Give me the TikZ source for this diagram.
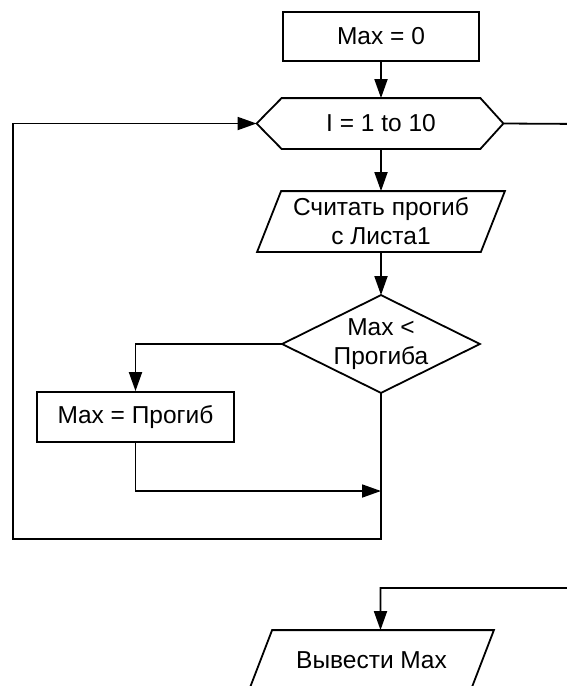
\documentclass[tikz,border=0pt]{standalone}
\usepackage{fontspec}
\setmainfont{Liberation Sans}
\usetikzlibrary{arrows.meta}
\begin{document}
\begin{tikzpicture}[x=1pt,y=-1pt,
  line width=1.8pt,
  font=\fontsize{24.5}{29}\selectfont,
  >={Triangle[length=19pt,width=13pt]},
  box/.style={draw, rectangle, inner sep=0pt},
  frame/.style={inner sep=0pt, align=center}]
\useasboundingbox (0,0) rectangle (566,686);

% nodes
\node[box, minimum width=196pt, minimum height=49pt] (m0) at (381,36.5) {Max = 0};

\node[frame, minimum width=197pt, minimum height=49pt] (loop) at (381,123.5) {I = 1 to 10};
\coordinate (loopL) at ([xshift=-25pt]loop.west);
\coordinate (loopR) at ([xshift=23pt]loop.east);
\draw (loop.north west) -- (loop.north east) -- (loopR) -- (loop.south east)
      -- (loop.south west) -- (loopL) -- cycle;

\node[frame, minimum width=222pt, minimum height=59pt] (read) at (381,221.5) {Считать прогиб\\с Листа1};
\draw ([xshift=12pt]read.north west) -- ([xshift=12pt]read.north east)
      -- ([xshift=-12pt]read.south east) -- ([xshift=-12pt]read.south west) -- cycle;

\node[frame, minimum width=196pt, minimum height=96pt] (cond) at (381,344) {Max <\\Прогиба};
\draw (cond.north) -- (cond.east) -- (cond.south) -- (cond.west) -- cycle;

\node[box, minimum width=197pt, minimum height=50pt] (mp) at (135.5,417) {Max = Прогиб};

\node[frame, minimum width=220pt, minimum height=58pt] (out) at (371.5,660) {Вывести Max};
\draw ([xshift=11.5pt]out.north west) -- ([xshift=11.5pt]out.north east)
      -- ([xshift=-11.5pt]out.south east) -- ([xshift=-11.5pt]out.south west) -- cycle;

% helper coordinates
\coordinate (join) at (381,491);
\coordinate (bl) at (13,539);
\coordinate (exitR) at (585,124);
\coordinate (exitD) at (585,588);
\coordinate (outin) at ([xshift=9pt]out.north);

% connectors
\draw[->] (m0) -- (loop);
\draw[->] (loop) -- (read);
\draw[->] (read) -- (cond.north);
\draw[->] (cond.west) -| (mp.north);
\draw[->] (mp.south) |- (join);
\draw[->] (cond.south) |- (bl) |- (loopL);
\draw[->] (loopR) -- (exitR) -- (exitD) -| (outin);
\end{tikzpicture}
\end{document}
